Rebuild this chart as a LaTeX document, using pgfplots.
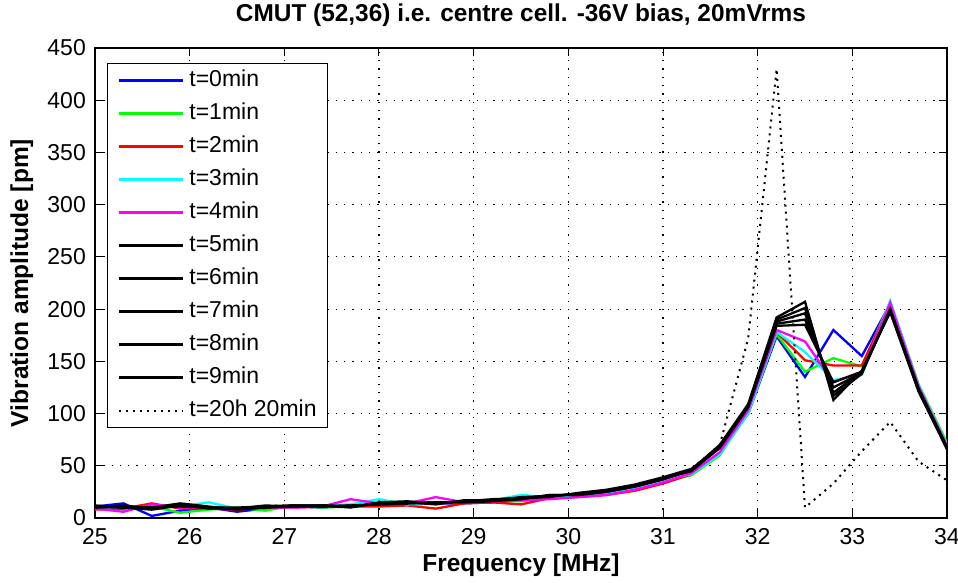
\documentclass[border=0pt]{standalone}
\usepackage{fontspec}
\setmainfont{Liberation Sans}
\usepackage{pgfplots}
\usepackage{pgfplotstable}
\pgfplotsset{compat=1.18}
\definecolor{mblue}{rgb}{0,0,1}
\definecolor{mgreen}{rgb}{0,1,0}
\definecolor{mred}{rgb}{1,0,0}
\definecolor{mcyan}{rgb}{0,1,1}
\definecolor{mmagenta}{rgb}{1,0,1}
\pgfplotstableread{
f    t0  t1  t2  t3  t4  t5  t6  t7  t8  t9  t20
25.0 11  9   8   10  9   11  10  12  10  11  10
25.3 14  8   9   10  6   10  11  10  12  10  11
25.6 2   11  14  10  13  9   10  8   9   10  9
25.9 7   5   9   11  10  13  14  12  13  11  12
26.2 10  8   9   15  10  10  11  10  9   10  10
26.5 6   10  8   9   9   9   8   10  9   9   9
26.8 9   7   10  10  10  11  10  11  12  10  11
27.1 11  12  10  11  10  12  11  12  11  12  12
27.4 10  10  11  12  11  12  11  12  12  11  11
27.7 12  11  11  13  18  11  12  11  10  12  11
28.0 13  12  11  18  14  14  13  14  15  13  14
28.3 13  13  12  13  14  15  14  15  16  14  15
28.6 14  14  9   14  20  14  15  13  14  15  14
28.9 14  15  14  16  15  16  15  17  16  15  16
29.2 15  16  15  17  16  17  16  17  18  17  17
29.5 17  16  13  22  17  19  18  20  19  18  19
29.8 20  19  19  20  18  21  22  21  20  22  21
30.1 21  21  20  22  20  23  22  23  24  22  23
30.4 23  24  22  24  22  26  25  26  27  25  26
30.7 28  28  26  29  27  31  30  31  32  30  31
31.0 35  34  33  36  34  38  37  38  39  37  38
31.3 42  41  42  42  43  45  46  45  47  46  47
31.6 62  60  62  61  63  67  68  69  68  70  70
31.9 100 101 103 100 103 106 107 108 107 109 172
32.2 174 176 178 178 180 184 186 188 190 192 430
32.5 135 140 151 159 169 185 190 196 201 207 10
32.8 180 153 146 132 130 130 125 120 117 113 33
33.1 155 145 146 137 140 140 139 140 138 141 64
33.4 205 207 205 208 206 200 199 198 200 197 92
33.7 125 128 126 127 126 124 123 122 123 121 54
34.0 68  72  70  70  69  68  67  66  67  66  36
}\datatable
\begin{document}
\begin{tikzpicture}
\useasboundingbox (-95pt,-65pt) rectangle (863pt,518pt);
\begin{axis}[
  scale only axis, width=852pt, height=470pt,
  xmin=25, xmax=34, ymin=0, ymax=450,
  xtick={25,26,...,34}, ytick={0,50,...,450},
  axis line style={line width=1.3pt},
  tick style={black, line width=1pt},
  major tick length=8pt, tick align=inside,
  grid=major,
  major grid style={black, line width=1.2pt, dash pattern=on 1.3pt off 7pt},
  tick label style={font=\fontsize{23}{26}\selectfont},
  /pgf/number format/assume math mode=true,
  xticklabel style={anchor=base, yshift=-27pt, inner sep=0pt},
  yticklabel style={anchor=east, xshift=-9pt, inner sep=0pt},
  title={CMUT (52,36) i.e. centre cell. -36V bias, 20mVrms},
  title style={font=\bfseries\fontsize{24.4}{28}\selectfont, at={(axis description cs:0.5,1)}, anchor=base, yshift=20pt, inner sep=0pt},
  xlabel={Frequency [MHz]},
  xlabel style={font=\bfseries\fontsize{24.5}{28}\selectfont, at={(axis description cs:0.5,0)}, anchor=base, yshift=-54pt, inner sep=0pt},
  ylabel={Vibration amplitude [pm]},
  ylabel style={font=\bfseries\fontsize{24.5}{28}\selectfont, at={(axis description cs:-0.0786,0.5)}, anchor=base, inner sep=0pt},
  legend style={at={(axis description cs:0,1)}, anchor=north west, xshift=12pt, yshift=-15pt,
    draw=black, line width=1.2pt, fill=white, font=\fontsize{23}{26}\selectfont,
    inner xsep=10.5pt, inner ysep=6pt, row sep=11pt, column sep=5pt,
    nodes={inner sep=0pt, text height=17pt, text depth=5pt}},
  legend cell align=left,
  legend image code/.code={\draw[#1] (0pt,0pt) -- (64pt,0pt);},
]
\addplot[mblue, line width=2.3pt] table[x=f, y=t0] {\datatable};
\addlegendentry{t=0min}
\addplot[mgreen, line width=2.3pt] table[x=f, y=t1] {\datatable};
\addlegendentry{t=1min}
\addplot[mred, line width=2.3pt] table[x=f, y=t2] {\datatable};
\addlegendentry{t=2min}
\addplot[mcyan, line width=2.3pt] table[x=f, y=t3] {\datatable};
\addlegendentry{t=3min}
\addplot[mmagenta, line width=2.3pt] table[x=f, y=t4] {\datatable};
\addlegendentry{t=4min}
\addplot[black, line width=2.3pt] table[x=f, y=t5] {\datatable};
\addlegendentry{t=5min}
\addplot[black, line width=2.3pt] table[x=f, y=t6] {\datatable};
\addlegendentry{t=6min}
\addplot[black, line width=2.3pt] table[x=f, y=t7] {\datatable};
\addlegendentry{t=7min}
\addplot[black, line width=2.3pt] table[x=f, y=t8] {\datatable};
\addlegendentry{t=8min}
\addplot[black, line width=2.3pt] table[x=f, y=t9] {\datatable};
\addlegendentry{t=9min}
\addplot[black, line width=2pt, dash pattern=on 2pt off 5pt] table[x=f, y=t20] {\datatable};
\addlegendentry{t=20h 20min}
\end{axis}
\end{tikzpicture}
\end{document}
